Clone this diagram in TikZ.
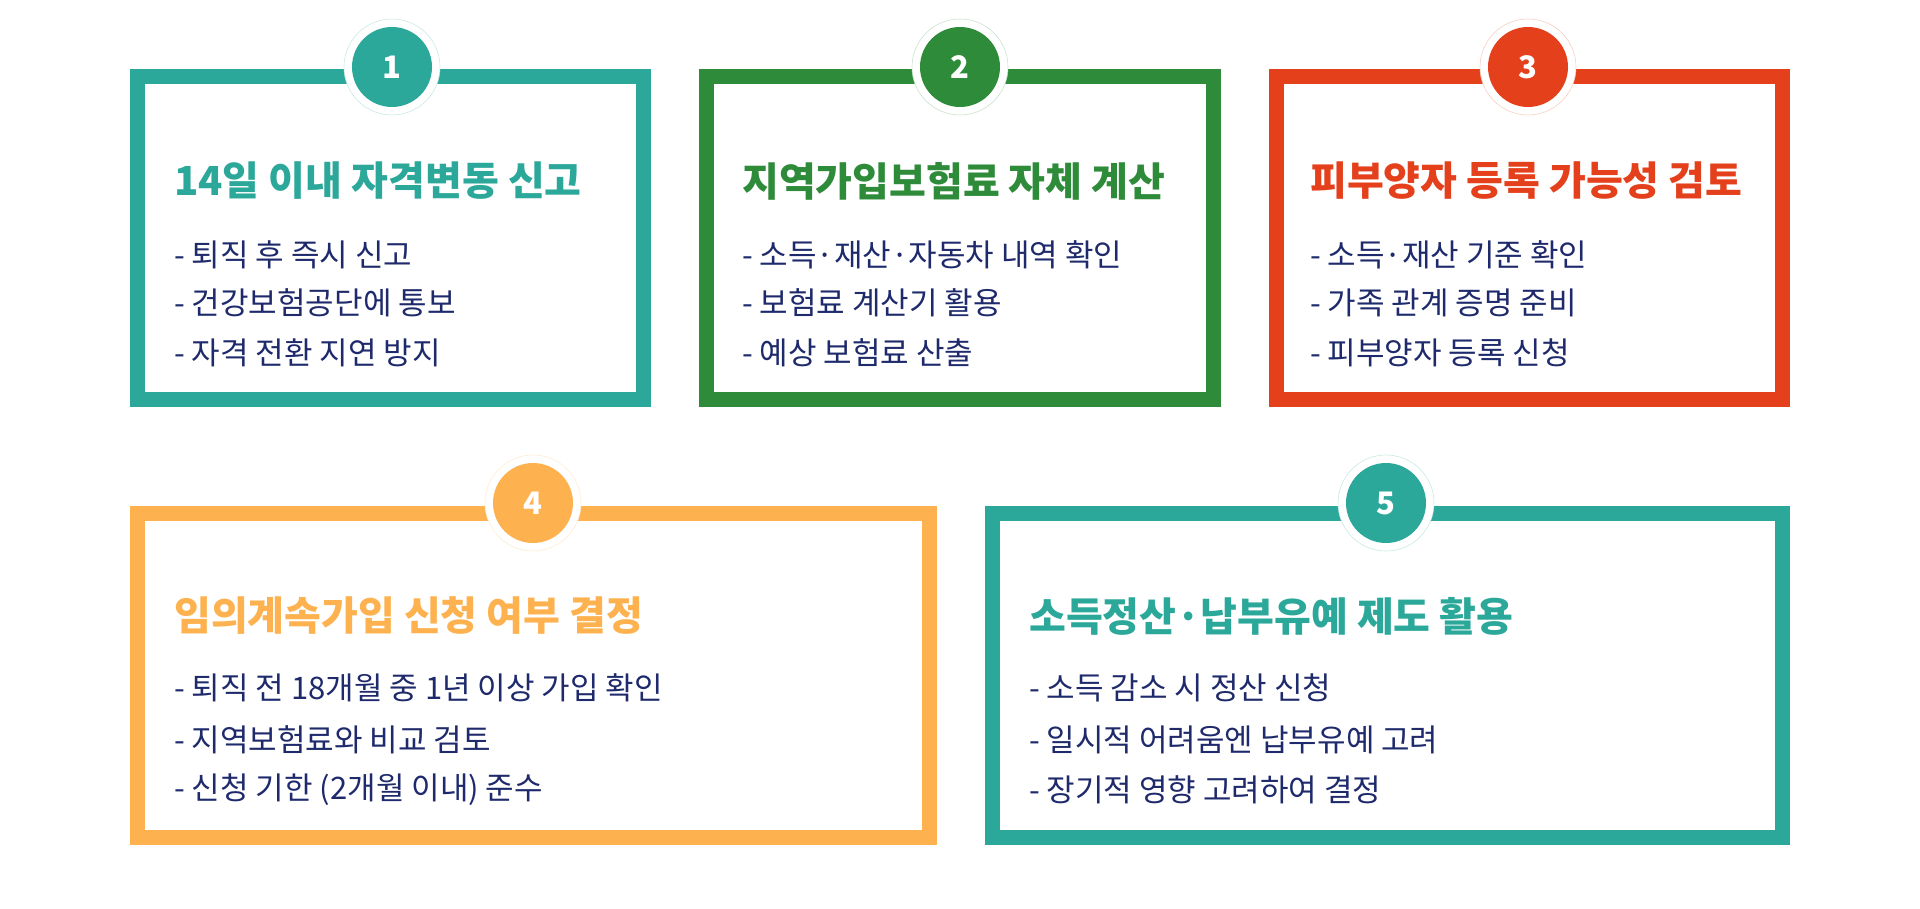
\documentclass[tikz,border=0pt]{standalone}
\usepackage{fontspec}
\newfontfamily\kr{Noto Sans CJK KR}
\definecolor{cteal}{HTML}{2BA89A}
\definecolor{cgreen}{HTML}{2E8B3A}
\definecolor{cred}{HTML}{E5401C}
\definecolor{cyel}{HTML}{FDB24F}
\definecolor{navy}{HTML}{1E2A6B}
\tikzset{
 card/.style={draw=#1,line width=15pt,fill=white},
 ring/.style={circle,fill=white,draw=#1!25,line width=0.6pt,minimum size=96pt,inner sep=0pt},
 badge/.style={circle,fill=#1,text=white,minimum size=80pt,inner sep=0pt,font=\kr\bfseries\fontsize{31}{34}\selectfont},
 ttl/.style={anchor=west,text=#1,font=\kr\bfseries\fontsize{40}{44}\selectfont,inner sep=0pt},
 itm/.style={anchor=west,text=navy,font=\kr\fontsize{31}{36}\selectfont,inner sep=0pt},
}
\begin{document}
\begin{tikzpicture}[x=1pt,y=-1pt]
\useasboundingbox (0,0) rectangle (1920,909);
% card 1
\draw[card=cteal] (137.5,76.5) rectangle (643.5,399.5);
\node[ring=cteal] (r1) at (392,67) {};
\node[badge=cteal] (b1) at (r1) {1};
\node[ttl=cteal] (t1) at (174,181) {14일 이내 자격변동 신고};
\node[itm] (a1) at (174,255) {- 퇴직 후 즉시 신고};
\node[itm] (a2) at (174,303) {- 건강보험공단에 통보};
\node[itm] (a3) at (174,353) {- 자격 전환 지연 방지};
% card 2
\draw[card=cgreen] (706.5,76.5) rectangle (1213.5,399.5);
\node[ring=cgreen] (r2) at (960,67) {};
\node[badge=cgreen] (b2) at (r2) {2};
\node[ttl=cgreen] (t2) at (742,181) {지역가입보험료 자체 계산};
\node[itm] (c1) at (742,255) {- 소득·재산·자동차 내역 확인};
\node[itm] (c2) at (742,303) {- 보험료 계산기 활용};
\node[itm] (c3) at (742,353) {- 예상 보험료 산출};
% card 3
\draw[card=cred] (1276.5,76.5) rectangle (1782.5,399.5);
\node[ring=cred] (r3) at (1528,67) {};
\node[badge=cred] (b3) at (r3) {3};
\node[ttl=cred] (t3) at (1310,181) {피부양자 등록 가능성 검토};
\node[itm] (d1) at (1310,255) {- 소득·재산 기준 확인};
\node[itm] (d2) at (1310,303) {- 가족 관계 증명 준비};
\node[itm] (d3) at (1310,353) {- 피부양자 등록 신청};
% card 4
\draw[card=cyel] (137.5,513.5) rectangle (929.5,837.5);
\node[ring=cyel] (r4) at (533,503) {};
\node[badge=cyel] (b4) at (r4) {4};
\node[ttl=cyel] (t4) at (174,616) {임의계속가입 신청 여부 결정};
\node[itm] (e1) at (174,688) {- 퇴직 전 18개월 중 1년 이상 가입 확인};
\node[itm] (e2) at (174,740) {- 지역보험료와 비교 검토};
\node[itm] (e3) at (174,790) {- 신청 기한 (2개월 이내) 준수};
% card 5
\draw[card=cteal] (992.5,513.5) rectangle (1782.5,837.5);
\node[ring=cteal] (r5) at (1386,503) {};
\node[badge=cteal] (b5) at (r5) {5};
\node[ttl=cteal] (t5) at (1029,616) {소득정산·납부유예 제도 활용};
\node[itm] (f1) at (1029,688) {- 소득 감소 시 정산 신청};
\node[itm] (f2) at (1029,740) {- 일시적 어려움엔 납부유예 고려};
\node[itm] (f3) at (1029,790) {- 장기적 영향 고려하여 결정};
\end{tikzpicture}
\end{document}
